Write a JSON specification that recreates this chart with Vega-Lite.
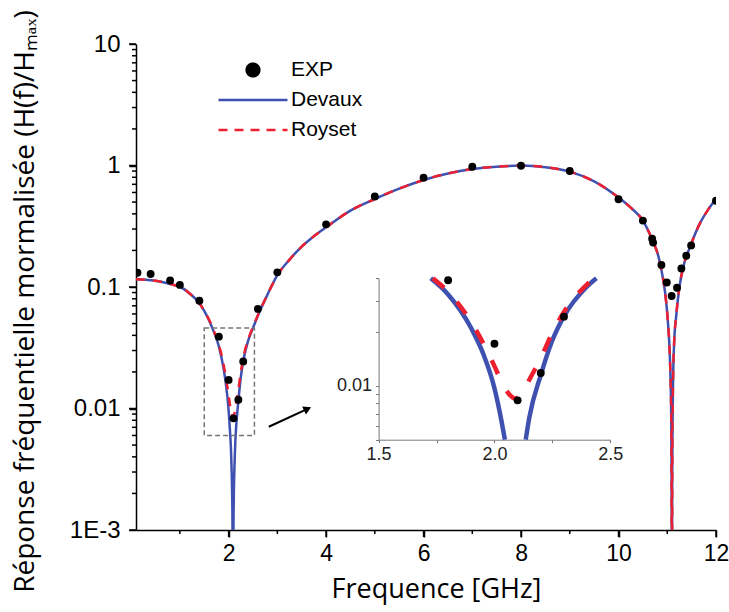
{
  "$schema": "https://vega.github.io/schema/vega-lite/v6.json",
  "width": 580,
  "height": 486,
  "autosize": {"type": "none"},
  "padding": {"left": 136, "top": 44, "right": 13, "bottom": 82},
  "background": "white",
  "config": {"view": {"stroke": null}},
  "datasets": {
    "devaux": [
      {"f": 0.1, "H": 0.1156}, {"f": 0.3, "H": 0.1148}, {"f": 0.5, "H": 0.1125}, {"f": 0.7, "H": 0.1085},
      {"f": 0.9, "H": 0.1035}, {"f": 1.0, "H": 0.1005}, {"f": 1.2, "H": 0.0885}, {"f": 1.4, "H": 0.0734},
      {"f": 1.5, "H": 0.0635}, {"f": 1.6, "H": 0.053}, {"f": 1.7, "H": 0.0425}, {"f": 1.725, "H": 0.04},
      {"f": 1.8, "H": 0.0325}, {"f": 1.9, "H": 0.021}, {"f": 1.95, "H": 0.0153}, {"f": 2.0, "H": 0.0097},
      {"f": 2.03, "H": 0.0064}, {"f": 2.045, "H": 0.005}, {"f": 2.06, "H": 0.0033}, {"f": 2.075, "H": 0.0017},
      {"f": 2.085, "H": 0.0006}, {"f": 2.09, "H": 0.0001}, {"f": 2.095, "H": 0.0006}, {"f": 2.105, "H": 0.0017},
      {"f": 2.12, "H": 0.0033}, {"f": 2.135, "H": 0.005}, {"f": 2.15, "H": 0.0066}, {"f": 2.2, "H": 0.0115},
      {"f": 2.25, "H": 0.018}, {"f": 2.3, "H": 0.0245}, {"f": 2.4, "H": 0.036}, {"f": 2.44, "H": 0.04},
      {"f": 2.5, "H": 0.046}, {"f": 2.6, "H": 0.058}, {"f": 2.8, "H": 0.087}, {"f": 3.0, "H": 0.125},
      {"f": 3.25, "H": 0.168}, {"f": 3.5, "H": 0.215}, {"f": 3.75, "H": 0.262}, {"f": 4.0, "H": 0.31},
      {"f": 4.5, "H": 0.425}, {"f": 5.0, "H": 0.53}, {"f": 5.5, "H": 0.645}, {"f": 6.0, "H": 0.76},
      {"f": 6.5, "H": 0.86}, {"f": 7.0, "H": 0.935}, {"f": 7.5, "H": 0.978}, {"f": 8.0, "H": 0.998},
      {"f": 8.5, "H": 0.968}, {"f": 9.0, "H": 0.89}, {"f": 9.5, "H": 0.74}, {"f": 10.0, "H": 0.545},
      {"f": 10.25, "H": 0.45}, {"f": 10.5, "H": 0.352}, {"f": 10.7, "H": 0.24}, {"f": 10.82, "H": 0.178},
      {"f": 10.88, "H": 0.138}, {"f": 10.95, "H": 0.094}, {"f": 11.01, "H": 0.054}, {"f": 11.05, "H": 0.029},
      {"f": 11.07, "H": 0.016}, {"f": 11.08, "H": 0.0095}, {"f": 11.088, "H": 0.003}, {"f": 11.095, "H": 0.0001},
      {"f": 11.102, "H": 0.003}, {"f": 11.11, "H": 0.009}, {"f": 11.12, "H": 0.018}, {"f": 11.14, "H": 0.034},
      {"f": 11.18, "H": 0.056}, {"f": 11.25, "H": 0.1}, {"f": 11.33, "H": 0.147}, {"f": 11.47, "H": 0.215},
      {"f": 11.67, "H": 0.334}, {"f": 11.85, "H": 0.44}, {"f": 12.0, "H": 0.53}
    ],
    "royset": [
      {"f": 0.1, "H": 0.1156}, {"f": 0.3, "H": 0.1148}, {"f": 0.5, "H": 0.1125}, {"f": 0.7, "H": 0.1085},
      {"f": 0.9, "H": 0.1035}, {"f": 1.0, "H": 0.1005}, {"f": 1.2, "H": 0.0885}, {"f": 1.4, "H": 0.0734},
      {"f": 1.5, "H": 0.0636}, {"f": 1.6, "H": 0.0537}, {"f": 1.7, "H": 0.0433}, {"f": 1.734, "H": 0.04},
      {"f": 1.8, "H": 0.0336}, {"f": 1.9, "H": 0.0227}, {"f": 1.95, "H": 0.0175}, {"f": 2.0, "H": 0.0129},
      {"f": 2.03, "H": 0.0106}, {"f": 2.06, "H": 0.0091}, {"f": 2.09, "H": 0.0085}, {"f": 2.12, "H": 0.0091},
      {"f": 2.15, "H": 0.0108}, {"f": 2.2, "H": 0.0143}, {"f": 2.25, "H": 0.0199}, {"f": 2.3, "H": 0.0259},
      {"f": 2.4, "H": 0.037}, {"f": 2.431, "H": 0.04}, {"f": 2.5, "H": 0.0468}, {"f": 2.6, "H": 0.0586},
      {"f": 2.8, "H": 0.087}, {"f": 3.0, "H": 0.125},
      {"f": 3.25, "H": 0.168}, {"f": 3.5, "H": 0.215}, {"f": 3.75, "H": 0.262}, {"f": 4.0, "H": 0.31},
      {"f": 4.5, "H": 0.425}, {"f": 5.0, "H": 0.53}, {"f": 5.5, "H": 0.645}, {"f": 6.0, "H": 0.76},
      {"f": 6.5, "H": 0.86}, {"f": 7.0, "H": 0.935}, {"f": 7.5, "H": 0.978}, {"f": 8.0, "H": 0.998},
      {"f": 8.5, "H": 0.968}, {"f": 9.0, "H": 0.89}, {"f": 9.5, "H": 0.74}, {"f": 10.0, "H": 0.545},
      {"f": 10.25, "H": 0.45}, {"f": 10.5, "H": 0.352}, {"f": 10.7, "H": 0.24}, {"f": 10.82, "H": 0.178},
      {"f": 10.88, "H": 0.138}, {"f": 10.95, "H": 0.094}, {"f": 11.01, "H": 0.054}, {"f": 11.05, "H": 0.029},
      {"f": 11.07, "H": 0.016}, {"f": 11.08, "H": 0.0095}, {"f": 11.088, "H": 0.003}, {"f": 11.095, "H": 0.0001},
      {"f": 11.102, "H": 0.003}, {"f": 11.11, "H": 0.009}, {"f": 11.12, "H": 0.018}, {"f": 11.14, "H": 0.034},
      {"f": 11.18, "H": 0.056}, {"f": 11.25, "H": 0.1}, {"f": 11.33, "H": 0.147}, {"f": 11.47, "H": 0.215},
      {"f": 11.67, "H": 0.334}, {"f": 11.85, "H": 0.44}, {"f": 12.0, "H": 0.53}
    ],
    "exp": [
      {"f": 0.13, "H": 0.131}, {"f": 0.4, "H": 0.128}, {"f": 0.8, "H": 0.113}, {"f": 1.0, "H": 0.104},
      {"f": 1.4, "H": 0.077}, {"f": 1.8, "H": 0.039}, {"f": 2.0, "H": 0.0172}, {"f": 2.1, "H": 0.0083},
      {"f": 2.2, "H": 0.0118}, {"f": 2.3, "H": 0.0244}, {"f": 2.6, "H": 0.066}, {"f": 3.0, "H": 0.132},
      {"f": 4.0, "H": 0.328}, {"f": 5.0, "H": 0.557}, {"f": 6.0, "H": 0.794}, {"f": 7.0, "H": 0.977},
      {"f": 8.0, "H": 0.996}, {"f": 9.0, "H": 0.9}, {"f": 10.0, "H": 0.527}, {"f": 10.5, "H": 0.352},
      {"f": 10.69, "H": 0.25}, {"f": 10.71, "H": 0.232}, {"f": 10.88, "H": 0.152}, {"f": 10.99, "H": 0.109},
      {"f": 11.09, "H": 0.0843}, {"f": 11.2, "H": 0.0986}, {"f": 11.29, "H": 0.142}, {"f": 11.39, "H": 0.181},
      {"f": 11.49, "H": 0.22}, {"f": 12.0, "H": 0.513}
    ],
    "box": [{"f": 1.5, "f2": 2.53, "H": 0.006, "H2": 0.046}],
    "arrow": [{"f": 2.824, "H": 0.00708, "f2": 3.62, "H2": 0.00994}],
    "xmajor": [{"f": 2}, {"f": 4}, {"f": 6}, {"f": 8}, {"f": 10}, {"f": 12}],
    "xminor": [{"f": 1}, {"f": 3}, {"f": 5}, {"f": 7}, {"f": 9}, {"f": 11}],
    "ymajor": [{"H": 0.001}, {"H": 0.01}, {"H": 0.1}, {"H": 1}, {"H": 10}],
    "yminor": [
      {"H": 0.002}, {"H": 0.003}, {"H": 0.004}, {"H": 0.005}, {"H": 0.006}, {"H": 0.007}, {"H": 0.008}, {"H": 0.009},
      {"H": 0.02}, {"H": 0.03}, {"H": 0.04}, {"H": 0.05}, {"H": 0.06}, {"H": 0.07}, {"H": 0.08}, {"H": 0.09},
      {"H": 0.2}, {"H": 0.3}, {"H": 0.4}, {"H": 0.5}, {"H": 0.6}, {"H": 0.7}, {"H": 0.8}, {"H": 0.9},
      {"H": 2}, {"H": 3}, {"H": 4}, {"H": 5}, {"H": 6}, {"H": 7}, {"H": 8}, {"H": 9}
    ]
  },
  "layer": [
    {
      "layer": [
        {
          "data": {"name": "devaux"},
          "mark": {"type": "line", "clip": true, "strokeWidth": 2.5, "interpolate": "monotone"},
          "encoding": {
            "x": {
              "field": "f", "type": "quantitative",
              "scale": {"domain": [0.1, 12], "nice": false, "zero": false},
              "axis": {
                "orient": "bottom", "values": [2, 4, 6, 8, 10, 12],
                "tickSize": 7, "grid": false, "domainColor": "#000", "domainWidth": 1.5, "tickColor": "#000", "tickWidth": 1.5,
                "labelFont": "Liberation Sans", "labelFontSize": 23, "labelColor": "#000", "labelPadding": 5,
                "labelFlush": false,
                "title": "Frequence [GHz]", "titleFont": "Open Sans", "titleFontSize": 27, "titleFontWeight": "normal",
                "titleColor": "#000", "titleX": 300, "titleY": 67, "titleBaseline": "alphabetic", "titleAlign": "center"
              }
            },
            "y": {
              "field": "H", "type": "quantitative",
              "scale": {"type": "log", "domain": [0.001, 10], "nice": false},
              "axis": {
                "orient": "left", "values": [0.001, 0.01, 0.1, 1, 10],
                "labelExpr": "datum.value == 10 ? '10' : datum.value == 1 ? '1' : datum.value == 0.1 ? '0.1' : datum.value == 0.01 ? '0.01' : '1E-3'",
                "tickSize": 7, "grid": false, "domainColor": "#000", "domainWidth": 1.5, "tickColor": "#000", "tickWidth": 1.5,
                "labelFont": "Liberation Sans", "labelFontSize": 24, "labelColor": "#000", "labelPadding": 9,
                "title": "Réponse fréquentielle mormalisée  (H(f)/Hₘₐₓ)", "titleFont": "Open Sans", "titleFontSize": 28,
                "titleFontWeight": "normal", "titleColor": "#000", "titleAngle": -90, "titleX": -103, "titleY": 257,
                "titleBaseline": "alphabetic", "titleAlign": "center"
              }
            },
            "color": {
              "datum": "Devaux",
              "scale": {"domain": ["EXP", "Devaux", "Royset"], "range": ["#000000", "#3F51B0", "#EE2030"]},
              "legend": {
                "title": null, "orient": "none", "legendX": 81, "legendY": 11, "padding": 0,
                "symbolType": "stroke", "symbolSize": 4761, "clipHeight": 30, "rowPadding": 0,
                "labelFont": "Liberation Sans", "labelFontSize": 21, "labelColor": "#000", "labelOffset": 2,
                "encode": {
                  "symbols": {
                    "update": {
                      "shape": {"signal": "datum.value === 'EXP' ? 'circle' : 'stroke'"},
                      "size": {"signal": "datum.value === 'EXP' ? 160 : 4761"},
                      "fill": {"signal": "datum.value === 'EXP' ? '#000000' : 'transparent'"},
                      "stroke": {"signal": "datum.value === 'EXP' ? 'transparent' : (datum.value === 'Devaux' ? '#3F51B0' : '#EE2030')"},
                      "strokeWidth": {"value": 2.5},
                      "strokeDash": {"signal": "datum.value === 'Royset' ? [9, 7] : [1, 0]"},
                      "opacity": {"value": 1}
                    }
                  }
                }
              }
            }
          }
        },
        {
          "data": {"name": "royset"},
          "mark": {"type": "line", "clip": true, "strokeWidth": 2.5, "strokeDash": [9, 8], "interpolate": "monotone"},
          "encoding": {
            "x": {"field": "f", "type": "quantitative"},
            "y": {"field": "H", "type": "quantitative"},
            "color": {"datum": "Royset"}
          }
        },
        {
          "data": {"name": "exp"},
          "mark": {"type": "point", "filled": true, "opacity": 1, "size": 62, "clip": true},
          "encoding": {
            "x": {"field": "f", "type": "quantitative"},
            "y": {"field": "H", "type": "quantitative"},
            "color": {"datum": "EXP"}
          }
        },
        {
          "data": {"name": "box"},
          "mark": {"type": "rect", "fill": null, "fillOpacity": 0, "stroke": "#777777", "strokeWidth": 1.5, "strokeDash": [5, 3]},
          "encoding": {
            "x": {"field": "f", "type": "quantitative"},
            "x2": {"field": "f2"},
            "y": {"field": "H", "type": "quantitative"},
            "y2": {"field": "H2"}
          }
        },
        {
          "data": {"name": "arrow"},
          "mark": {"type": "rule", "stroke": "#000", "strokeWidth": 2},
          "encoding": {
            "x": {"field": "f", "type": "quantitative"},
            "x2": {"field": "f2"},
            "y": {"field": "H", "type": "quantitative"},
            "y2": {"field": "H2"}
          }
        },
        {
          "data": {"name": "arrow"},
          "mark": {"type": "point", "shape": "triangle-right", "filled": true, "fill": "#000", "opacity": 1, "size": 80, "angle": 335},
          "encoding": {
            "x": {"field": "f2", "type": "quantitative"},
            "y": {"field": "H2", "type": "quantitative"}
          }
        },
        {
          "data": {"name": "xmajor"},
          "mark": {"type": "tick", "orient": "vertical", "color": "#000", "opacity": 1, "size": 7, "thickness": 1.5, "yOffset": 3.5},
          "encoding": {
            "x": {"field": "f", "type": "quantitative"},
            "y": {"datum": 0.001, "type": "quantitative"}
          }
        },
        {
          "data": {"name": "xminor"},
          "mark": {"type": "tick", "orient": "vertical", "color": "#000", "opacity": 1, "size": 4, "thickness": 1.5, "yOffset": 2},
          "encoding": {
            "x": {"field": "f", "type": "quantitative"},
            "y": {"datum": 0.001, "type": "quantitative"}
          }
        },
        {
          "data": {"name": "ymajor"},
          "mark": {"type": "tick", "orient": "horizontal", "color": "#000", "opacity": 1, "size": 7, "thickness": 1.5, "xOffset": -3.5},
          "encoding": {
            "y": {"field": "H", "type": "quantitative"},
            "x": {"datum": 0.1, "type": "quantitative"}
          }
        },
        {
          "data": {"name": "yminor"},
          "mark": {"type": "tick", "orient": "horizontal", "color": "#000", "opacity": 1, "size": 4, "thickness": 1.5, "xOffset": -2},
          "encoding": {
            "y": {"field": "H", "type": "quantitative"},
            "x": {"datum": 0.1, "type": "quantitative"}
          }
        }
      ]
    },
    {
      "layer": [
        {
          "data": {"name": "devaux"},
          "transform": [{"filter": "datum.f >= 1.5 && datum.f < 2.09 && datum.H >= 0.00499 && datum.H <= 0.0401"}],
          "mark": {"type": "line", "stroke": "#3F51B0", "strokeWidth": 4.5, "interpolate": "monotone"},
          "encoding": {
            "x": {
              "field": "f", "type": "quantitative",
              "scale": {"domain": [1.5, 2.5], "range": [242.6, 474.3], "nice": false, "zero": false},
              "axis": {
                "orient": "bottom", "offset": -90.3, "values": [1.5, 1.75, 2, 2.25, 2.5],
                "labelExpr": "(datum.value == 1.75 || datum.value == 2.25) ? '' : format(datum.value, '.1f')",
                "tickSize": 3, "grid": false, "domainColor": "#777", "tickColor": "#777", "tickWidth": 1,
                "labelFont": "Liberation Sans", "labelFontSize": 18, "labelColor": "#222", "labelPadding": 3,
                "labelFlush": false, "title": null
              }
            },
            "y": {
              "field": "H", "type": "quantitative",
              "scale": {"type": "log", "domain": [0.005, 0.04], "range": [395.7, 234.3], "nice": false},
              "axis": {
                "orient": "left", "offset": -242.6,
                "values": [0.005, 0.006, 0.007, 0.008, 0.009, 0.01, 0.02, 0.03, 0.04],
                "labelExpr": "datum.value == 0.01 ? '0.01' : ''",
                "tickSize": 3, "grid": false, "domainColor": "#777", "tickColor": "#777", "tickWidth": 1,
                "labelFont": "Liberation Sans", "labelFontSize": 18, "labelColor": "#222", "labelPadding": 4,
                "title": null
              }
            }
          }
        },
        {
          "data": {"name": "devaux"},
          "transform": [{"filter": "datum.f > 2.09 && datum.f <= 2.5 && datum.H >= 0.00499 && datum.H <= 0.0401"}],
          "mark": {"type": "line", "stroke": "#3F51B0", "strokeWidth": 4.5, "interpolate": "monotone"},
          "encoding": {
            "x": {"field": "f", "type": "quantitative"},
            "y": {"field": "H", "type": "quantitative"}
          }
        },
        {
          "data": {"name": "royset"},
          "transform": [{"filter": "datum.f >= 1.5 && datum.f <= 2.5 && datum.H >= 0.00499 && datum.H <= 0.0401"}],
          "mark": {"type": "line", "stroke": "#EE2030", "strokeWidth": 4.5, "strokeDash": [15, 19], "interpolate": "monotone"},
          "encoding": {
            "x": {"field": "f", "type": "quantitative"},
            "y": {"field": "H", "type": "quantitative"}
          }
        },
        {
          "data": {"name": "exp"},
          "transform": [{"filter": "datum.f >= 1.5 && datum.f <= 2.5 && datum.H >= 0.005 && datum.H <= 0.0401"}],
          "mark": {"type": "point", "filled": true, "fill": "#000", "opacity": 1, "size": 62},
          "encoding": {
            "x": {"field": "f", "type": "quantitative"},
            "y": {"field": "H", "type": "quantitative"}
          }
        }
      ]
    }
  ],
  "resolve": {"scale": {"x": "independent", "y": "independent"}, "axis": {"x": "independent", "y": "independent"}}
}
